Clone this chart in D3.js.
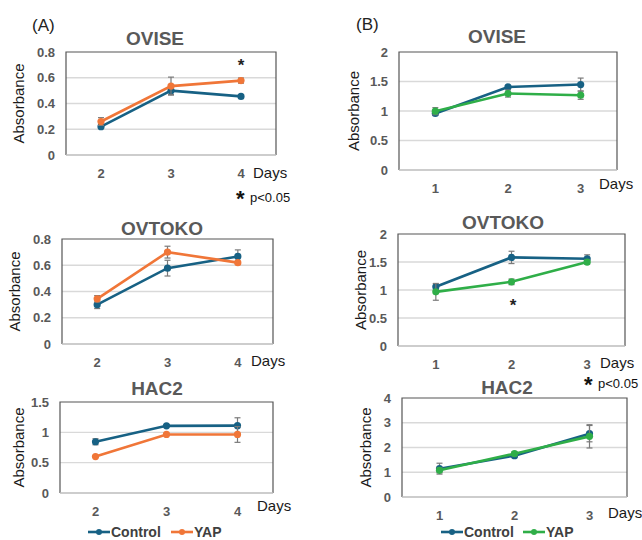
<!doctype html>
<html>
  <head>
    <meta charset="utf-8">
    <script src="https://d3js.org/d3.v7.min.js"></script>
    <style>
      body { margin: 0; background: #fff; }
      text { font-family: "Liberation Sans", Arial, sans-serif; }
    </style>
  </head>
  <body>
    <script>
      // ---- data ----
      var daysA = [2, 3, 4];
      var daysB = [1, 2, 3];

      var oviseA_ctrl = [0.22, 0.50, 0.455],   oviseA_ctrlErr = [0.01, 0.03, 0.01];
      var oviseA_yap  = [0.26, 0.535, 0.578],  oviseA_yapErr  = [0.03, 0.07, 0.02];
      var ovtokoA_ctrl = [0.30, 0.578, 0.667], ovtokoA_ctrlErr = [0.03, 0.06, 0.05];
      var ovtokoA_yap  = [0.344, 0.70, 0.62],  ovtokoA_yapErr  = [0.025, 0.045, 0.01];
      var hac2A_ctrl = [0.845, 1.107, 1.11],   hac2A_ctrlErr = [0.05, 0.01, 0.13];
      var hac2A_yap  = [0.60, 0.965, 0.965],   hac2A_yapErr  = [0.01, 0.01, 0.13];

      var oviseB_ctrl = [0.958, 1.408, 1.448], oviseB_ctrlErr = [0.03, 0.02, 0.11];
      var oviseB_yap  = [0.997, 1.296, 1.268], oviseB_yapErr  = [0.06, 0.06, 0.07];
      var ovtokoB_ctrl = [1.057, 1.582, 1.558], ovtokoB_ctrlErr = [0.05, 0.11, 0.07];
      var ovtokoB_yap  = [0.967, 1.146, 1.498], ovtokoB_yapErr  = [0.15, 0.05, 0.04];
      var hac2B_ctrl = [1.145, 1.67, 2.56],    hac2B_ctrlErr = [0.22, 0.08, 0.33];
      var hac2B_yap  = [1.077, 1.75, 2.45],    hac2B_yapErr  = [0.10, 0.08, 0.47];

      var ticksA1 = [0, 0.2, 0.4, 0.6, 0.8];
      var ticksA3 = [0, 0.5, 1, 1.5];
      var ticksB12 = [0, 0.5, 1, 1.5, 2];
      var ticksB3 = [0, 1, 2, 3, 4];

      var blue = "#176184", orange = "#f07638", green = "#2fae48";

      // ---- layout ----
      var width = 642, height = 540;
      var svg = d3.select("body").append("svg")
        .attr("width", width).attr("height", height);

      var panels = [
        { title: "OVISE",  tx: 155, ty: 38,  box: [66, 52, 276, 155],  days: daysA, ticks: ticksA1,
          ctrl: oviseA_ctrl, ctrlErr: oviseA_ctrlErr, yap: oviseA_yap, yapErr: oviseA_yapErr, yc: orange,
          labX: 19, daysX: 253, daysY: 173 },
        { title: "OVTOKO", tx: 162, ty: 228, box: [62, 239, 273, 344], days: daysA, ticks: ticksA1,
          ctrl: ovtokoA_ctrl, ctrlErr: ovtokoA_ctrlErr, yap: ovtokoA_yap, yapErr: ovtokoA_yapErr, yc: orange,
          labX: 15, daysX: 251, daysY: 361 },
        { title: "HAC2",   tx: 157, ty: 388, box: [60, 402, 273, 493], days: daysA, ticks: ticksA3,
          ctrl: hac2A_ctrl, ctrlErr: hac2A_ctrlErr, yap: hac2A_yap, yapErr: hac2A_yapErr, yc: orange,
          labX: 19, daysX: 257, daysY: 506 },
        { title: "OVISE",  tx: 497, ty: 36,  box: [399, 52, 617, 170], days: daysB, ticks: ticksB12,
          ctrl: oviseB_ctrl, ctrlErr: oviseB_ctrlErr, yap: oviseB_yap, yapErr: oviseB_yapErr, yc: green,
          labX: 354, daysX: 599, daysY: 184 },
        { title: "OVTOKO", tx: 503, ty: 222, box: [398, 234, 625, 346], days: daysB, ticks: ticksB12,
          ctrl: ovtokoB_ctrl, ctrlErr: ovtokoB_ctrlErr, yap: ovtokoB_yap, yapErr: ovtokoB_yapErr, yc: green,
          labX: 361, daysX: 600, daysY: 363 },
        { title: "HAC2",   tx: 507, ty: 387, box: [402, 398, 627, 497], days: daysB, ticks: ticksB3,
          ctrl: hac2B_ctrl, ctrlErr: hac2B_ctrlErr, yap: hac2B_yap, yapErr: hac2B_yapErr, yc: green,
          labX: 366, daysX: 608, daysY: 513 }
      ];

      panels.forEach(function(p) {
        var x0 = p.box[0], y0 = p.box[1], x1 = p.box[2], y1 = p.box[3];
        var x = d3.scalePoint().domain(p.days).range([x0, x1]).padding(0.5);
        var y = d3.scaleLinear().domain([0, d3.max(p.ticks)]).range([y1, y0]);
        var g = svg.append("g");

        // gridlines
        g.selectAll(".grid").data(p.ticks.slice(1, -1)).enter().append("line")
          .attr("x1", x0).attr("x2", x1)
          .attr("y1", d => y(d)).attr("y2", d => y(d))
          .attr("stroke", "#d9d9d9").attr("stroke-width", 1.3);

        // frame
        g.append("path")
          .attr("d", "M" + x0 + "," + y1 + "V" + y0 + "H" + x1 + "V" + y1)
          .attr("fill", "none").attr("stroke", "#555").attr("stroke-width", 1.2);
        g.append("line").attr("x1", x0).attr("x2", x1).attr("y1", y1).attr("y2", y1)
          .attr("stroke", "#bdbdbd").attr("stroke-width", 1.5);

        // y tick labels
        g.selectAll(".yt").data(p.ticks).enter().append("text")
          .attr("x", x0 - 11).attr("y", d => y(d)).attr("dy", "0.35em")
          .attr("text-anchor", "end").attr("font-size", 13).attr("font-weight", "bold")
          .attr("fill", "#595959").text(d => d);

        // x tick labels
        g.selectAll(".xt").data(p.days).enter().append("text")
          .attr("x", d => x(d)).attr("y", y1 + 18).attr("dy", "0.35em")
          .attr("text-anchor", "middle").attr("font-size", 13).attr("font-weight", "bold")
          .attr("fill", "#595959").text(d => d);

        g.append("text").attr("x", p.daysX).attr("y", p.daysY).attr("dy", "0.35em")
          .attr("font-size", 15).attr("fill", "#1a1a1a").text("Days");

        g.append("text")
          .attr("transform", "translate(" + p.labX + "," + ((y0 + y1) / 2) + ") rotate(-90)")
          .attr("dy", "0.35em").attr("text-anchor", "middle")
          .attr("font-size", 15).attr("fill", "#1a1a1a").text("Absorbance");

        g.append("text").attr("x", p.tx).attr("y", p.ty).attr("dy", "0.35em")
          .attr("text-anchor", "middle").attr("font-size", 19).attr("font-weight", "bold")
          .attr("fill", "#595959").text(p.title);

        var series = [
          { vals: p.ctrl, err: p.ctrlErr, color: blue },
          { vals: p.yap, err: p.yapErr, color: p.yc }
        ];
        var line = d3.line().x(d => x(d.day)).y(d => y(d.v));

        series.forEach(function(s) {
          var pts = p.days.map((d, i) => ({ day: d, v: s.vals[i], e: s.err[i] }));
          var eg = g.append("g").attr("stroke", "#7a7a7a").attr("stroke-width", 1.2);
          pts.forEach(function(d) {
            var cx = x(d.day), top = y(d.v + d.e), bot = y(d.v - d.e);
            eg.append("line").attr("x1", cx).attr("x2", cx).attr("y1", top).attr("y2", bot);
            eg.append("line").attr("x1", cx - 3).attr("x2", cx + 3).attr("y1", top).attr("y2", top);
            eg.append("line").attr("x1", cx - 3).attr("x2", cx + 3).attr("y1", bot).attr("y2", bot);
          });
          g.append("path").datum(pts).attr("d", line)
            .attr("fill", "none").attr("stroke", s.color).attr("stroke-width", 2.6);
          g.selectAll(null).data(pts).enter().append("circle")
            .attr("cx", d => x(d.day)).attr("cy", d => y(d.v)).attr("r", 3.6)
            .attr("fill", s.color);
        });
      });

      // panel letters
      svg.append("text").attr("x", 32).attr("y", 25).attr("dy", "0.35em")
        .attr("font-size", 17).attr("fill", "#222").text("(A)");
      svg.append("text").attr("x", 356).attr("y", 24).attr("dy", "0.35em")
        .attr("font-size", 17).attr("fill", "#222").text("(B)");

      // significance marks
      var star = function(sx, sy, size) {
        svg.append("text").attr("x", sx).attr("y", sy).attr("dy", "0.7em")
          .attr("text-anchor", "middle").attr("font-size", size).attr("font-weight", "bold")
          .attr("fill", "#222").text("*");
      };
      star(241, 59, 17);
      star(513, 299, 17);
      [[236, 197], [584, 383]].forEach(function(pp) {
        svg.append("text").attr("x", pp[0]).attr("y", pp[1] - 6).attr("dy", "0.7em")
          .attr("font-size", 22).attr("font-weight", "bold").attr("fill", "#111").text("*");
        svg.append("text").attr("x", pp[0] + 14).attr("y", pp[1]).attr("dy", "0.35em")
          .attr("font-size", 13).attr("fill", "#111").text("p<0.05");
      });

      // legends
      var legends = [
        { y: 532, items: [{ x: 88, label: "Control", color: blue }, { x: 171, label: "YAP", color: orange }] },
        { y: 532, items: [{ x: 441, label: "Control", color: blue }, { x: 523, label: "YAP", color: green }] }
      ];
      legends.forEach(function(l) {
        l.items.forEach(function(it) {
          svg.append("line").attr("x1", it.x).attr("x2", it.x + 22).attr("y1", l.y).attr("y2", l.y)
            .attr("stroke", it.color).attr("stroke-width", 2.6);
          svg.append("circle").attr("cx", it.x + 11).attr("cy", l.y).attr("r", 3).attr("fill", it.color);
          svg.append("text").attr("x", it.x + 23).attr("y", l.y).attr("dy", "0.35em")
            .attr("font-size", 14).attr("font-weight", "bold").attr("fill", "#404040").text(it.label);
        });
      });
    </script>
  </body>
</html>
